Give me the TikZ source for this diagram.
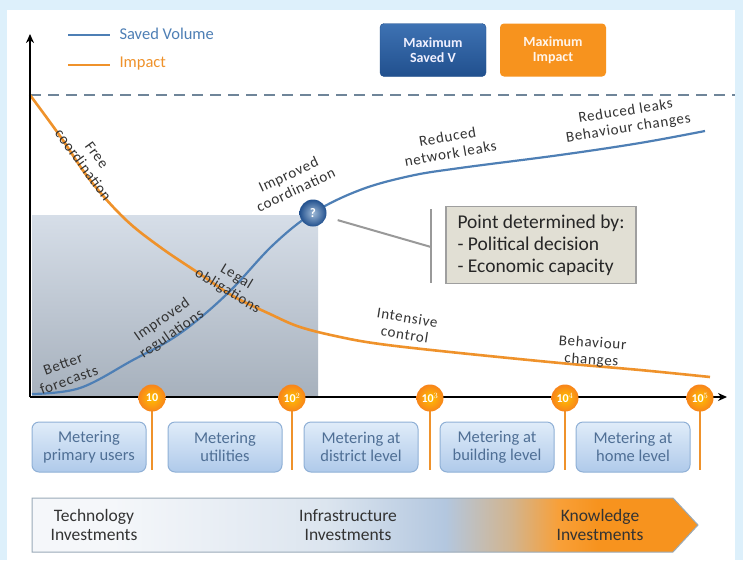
\documentclass[tikz,border=0pt]{standalone}
\usepackage{fontspec}
\setmainfont{Carlito}
\newfontfamily\lblfont[LetterSpace=5]{Carlito}
\usetikzlibrary{calc, shadings, arrows.meta, positioning}

\definecolor{framebg}{HTML}{DDF0FB}
\definecolor{volblue}{HTML}{4E7FB5}
\definecolor{imporange}{HTML}{EF922B}
\definecolor{dashgray}{HTML}{6F8599}
\definecolor{metertext}{HTML}{4F6F95}
\definecolor{meterline}{HTML}{8FB0D6}
\definecolor{metertop}{HTML}{E0ECF9}
\definecolor{meterbot}{HTML}{AFCAEA}
\definecolor{calloutbg}{HTML}{E1DFD4}
\definecolor{darkblue}{HTML}{21508E}
\definecolor{lightblue}{HTML}{3E72B3}
\definecolor{maxorange}{HTML}{F7931E}
\definecolor{regiontop}{HTML}{D6DEE8}
\definecolor{regionbot}{HTML}{A7B1BD}
\definecolor{investwhite}{HTML}{F5F7FA}
\definecolor{investpale}{HTML}{DCE5EF}
\definecolor{investblue}{HTML}{B3C7DF}
\definecolor{investmix}{HTML}{D2B48E}

% shading for the investment arrow (the path covers 25bp to 75bp)
\pgfdeclarehorizontalshading{investshade}{100bp}{color(0bp)=(investwhite); color(31bp)=(investwhite); color(47bp)=(investpale); color(56bp)=(investblue); color(61bp)=(investmix); color(64.5bp)=(maxorange!88!white); color(67.5bp)=(maxorange); color(100bp)=(maxorange)}

\begin{document}
\begin{tikzpicture}[x=1pt, y=-1pt,
        lbl/.style={font=\lblfont\fontsize{15}{17}\selectfont, text=black!80, align=center, inner sep=1pt},
        invest/.style={font=\fontsize{17.5}{19}\selectfont, text=black!80, align=center},
        vol/.style={draw=volblue, line width=2.2pt},
        imp/.style={draw=imporange, line width=2.6pt},
        axis/.style={draw=black, line width=1.6pt, -{Stealth[length=9pt, width=8pt]}},
        maxbox/.style={rectangle, rounded corners=4pt, minimum width=106pt, minimum height=53pt, text centered, align=center, font=\fontsize{14}{15}\selectfont\bfseries},
        meter/.style={rectangle, draw=meterline, line width=1pt, rounded corners=7pt, top color=metertop, bottom color=meterbot, minimum width=114pt, minimum height=50pt, text=metertext, align=center, font=\fontsize{16.5}{18}\selectfont},
        tick/.style={circle, inner color=orange!50!yellow, outer color=maxorange!90!red, minimum size=27pt, inner sep=0pt, text=white, font=\fontsize{12}{12}\selectfont\bfseries},
        stem/.style={draw=imporange, line width=2pt},
        callline/.style={draw=gray!80, line width=2pt}]

    % frame and panel
    \fill[framebg] (0,0) rectangle (743,560);
    \fill[white] (7,10) rectangle (735,560);
    \useasboundingbox (0,0) rectangle (743,560);

    % shaded region under the decision point
    \shade[top color=regiontop, bottom color=regionbot] (32,215) rectangle (318,395);

    % maximum level
    \draw[dashgray, line width=2pt, dash pattern=on 11pt off 7pt] (30,95) -- (735,95);

    % legend
    \draw[vol] (68,35) -- (110,35);
    \node[right, text=volblue, font=\fontsize{16.5}{17}\selectfont] (legvol) at (116,34) {Saved Volume};
    \draw[imp] (68,65) -- (110,65);
    \node[right, text=imporange, font=\fontsize{16.5}{17}\selectfont] (legimp) at (116,64) {Impact};

    \node[maxbox, top color=lightblue, bottom color=darkblue, text=blue!6, draw=darkblue] (maxv) at (433,50) {Maximum\\Saved V};
    \node[maxbox, fill=maxorange, text=orange!8] (maxi) at (553,50) {Maximum\\Impact};

    % curves
    \draw[imp] plot[smooth, tension=0.6] coordinates {(30,95) (60,136) (90,180) (125,219) (160,247) (200,274) (233,296) (270,314) (300,327) (340,337) (380,344) (450,352) (560,363) (640,370) (710,377)};
    \draw[vol] plot[smooth, tension=0.6] coordinates {(32,394) (80,388) (133,360) (170,340) (200,318) (233,288) (273,245) (313,213) (360,190) (410,176) (460,168) (560,155) (640,143) (705,131)};

    % axes
    \draw[axis] (30,397) -- (30,34);
    \draw[axis] (30,397) -- (727,397);

    % decision point and its callout
    \node[circle, inner color=volblue!55!white, outer color=darkblue, minimum size=27pt, inner sep=0pt, text=white, font=\fontsize{13}{13}\selectfont\bfseries] (q) at (313,213) {?};
    \coordinate (bar) at (431,247);
    \draw[callline, shorten <=12pt] (q) -- (bar);
    \draw[callline] (431,209) -- (431,283);
    \node[rectangle, draw=gray!75, line width=1.2pt, fill=calloutbg, minimum width=190pt, minimum height=77pt, align=left, font=\fontsize{19.5}{22}\selectfont, text=black!85] (why) at (541,245) {Point determined by:\\- Political decision\\- Economic capacity};

    % curve labels
    \node[lbl, rotate=-54] (free) at (90,160) {Free\\coordination};
    \node[lbl, rotate=25] (coord) at (292,182) {Improved\\coordination};
    \node[lbl, rotate=10] (netleak) at (449,145) {Reduced\\network leaks};
    \node[lbl, rotate=9] (leaks) at (627,120) {Reduced leaks\\Behaviour changes};
    \node[lbl, rotate=-31] (legal) at (232,284) {Legal\\obligations};
    \node[lbl, rotate=35] (reg) at (167,327) {Improved\\regulations};
    \node[lbl, rotate=20] (fcast) at (66,372) {Better\\forecasts};
    \node[lbl, rotate=-9] (control) at (406,326) {Intensive\\control};
    \node[lbl, rotate=-4] (behav) at (592,352) {Behaviour\\changes};

    % metering levels
    \node[meter] (m1) at (89,447) {Metering\\primary users};
    \node[meter, right=21pt of m1] (m2) {Metering\\utilities};
    \node[meter, right=21pt of m2] (m3) {Metering at\\district level};
    \node[meter, right=21pt of m3] (m4) {Metering at\\building level};
    \node[meter, right=21pt of m4] (m5) {Metering at\\home level};

    % scale markers
    \foreach \x/\lab [count=\i] in {152/10, 292/10$^2$, 430/10$^3$, 565/10$^4$, 700/10$^5$} {
        \draw[stem] (\x,400) -- (\x,470);
        \node[tick] (t\i) at (\x,398) {\lab};
    }

    % investment arrow
    \shade[shading=investshade, draw=dashgray!70, line width=1pt] (32,498) -- (673,498) -- (698,525) -- (673,552) -- (32,552) -- cycle;
    \node[invest] (tech) at (94,525) {Technology\\Investments};
    \node[invest] (infra) at (348,525) {Infrastructure\\Investments};
    \node[invest] (know) at (600,525) {Knowledge\\Investments};
\end{tikzpicture}
\end{document}
